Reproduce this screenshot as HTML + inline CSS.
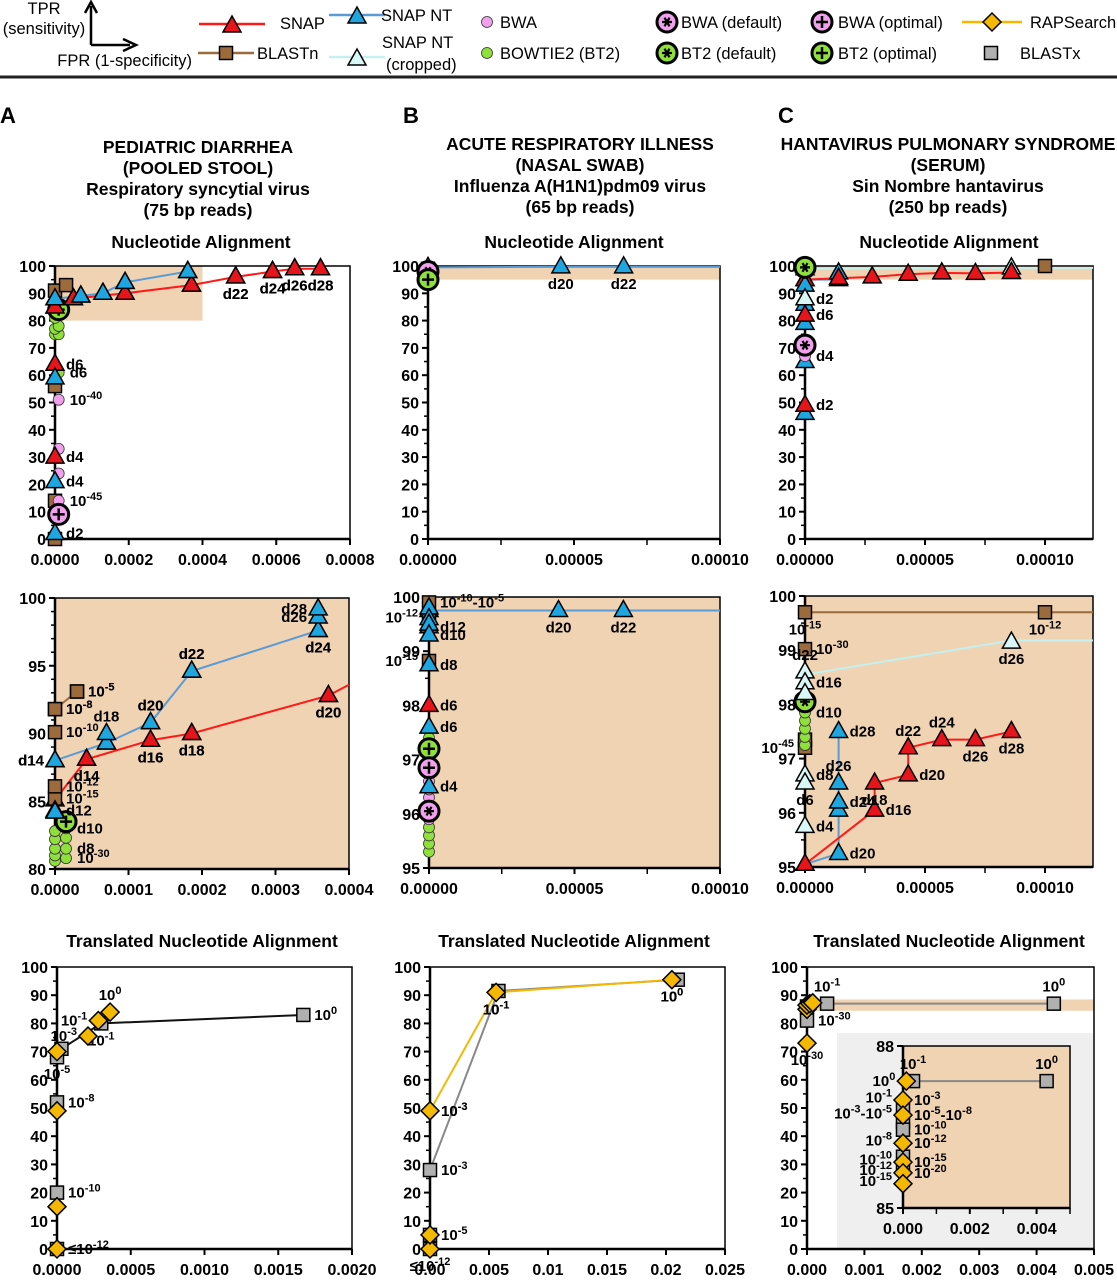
<!DOCTYPE html>
<html><head><meta charset="utf-8">
<style>
html,body{margin:0;padding:0;background:#fff;}
svg{display:block;font-family:"Liberation Sans",Arial,sans-serif;}
.tk{font-size:16px;font-weight:bold;fill:#000;}
.lb{font-size:15px;font-weight:bold;fill:#000;}
.tt{font-size:17.5px;font-weight:bold;fill:#000;}
.lg{font-size:16.5px;fill:#000;}
</style></head>
<body>
<svg id="fig" width="1117" height="1280" viewBox="0 0 1117 1280" xmlns="http://www.w3.org/2000/svg">
<g>
  <text class="lg" x="44" y="14" text-anchor="middle">TPR</text>
  <text class="lg" x="44" y="34" text-anchor="middle">(sensitivity)</text>
  <path d="M91,45 V6 M85,13 L91,2 L97,13 M91,45 H130 M123,39 L136,45 L123,51" stroke="#000" stroke-width="2.5" fill="none"/>
  <text class="lg" x="192" y="66" text-anchor="end">FPR (1-specificity)</text>
  <line x1="0" y1="77" x2="1117" y2="77" stroke="#222" stroke-width="3"/>
</g>
<g id="legendItems"></g>
<g>
  <text x="0" y="123" font-size="22" font-weight="bold">A</text>
  <text x="403" y="123" font-size="22" font-weight="bold">B</text>
  <text x="778" y="123" font-size="22" font-weight="bold">C</text>
  <g text-anchor="middle">
    <text class="tt" x="198" y="153">PEDIATRIC DIARRHEA</text>
    <text class="tt" x="198" y="174">(POOLED STOOL)</text>
    <text class="tt" x="198" y="195">Respiratory syncytial virus</text>
    <text class="tt" x="198" y="216">(75 bp reads)</text>
    <text class="tt" x="580" y="150">ACUTE RESPIRATORY ILLNESS</text>
    <text class="tt" x="580" y="171">(NASAL SWAB)</text>
    <text class="tt" x="580" y="192">Influenza A(H1N1)pdm09 virus</text>
    <text class="tt" x="580" y="213">(65 bp reads)</text>
    <text class="tt" x="948" y="150">HANTAVIRUS PULMONARY SYNDROME</text>
    <text class="tt" x="948" y="171">(SERUM)</text>
    <text class="tt" x="948" y="192">Sin Nombre hantavirus</text>
    <text class="tt" x="948" y="213">(250 bp reads)</text>
    <text class="tt" x="201" y="248">Nucleotide Alignment</text>
    <text class="tt" x="574" y="248">Nucleotide Alignment</text>
    <text class="tt" x="949" y="248">Nucleotide Alignment</text>
    <text class="tt" x="202" y="947">Translated Nucleotide Alignment</text>
    <text class="tt" x="574" y="947">Translated Nucleotide Alignment</text>
    <text class="tt" x="949" y="947">Translated Nucleotide Alignment</text>
  </g>
</g>
<g id="plots"></g>
</svg>
<script>
// ---------- tick label arrays ----------
const yTicks100 = [0,10,20,30,40,50,60,70,80,90,100];
const yTicksA2 = [80,85,90,95,100];
const yTicks95 = [95,96,97,98,99,100];
const yTicksInset = [85,88];
const xTicksA1 = ["0.0000","0.0002","0.0004","0.0006","0.0008"];
const xTicksBC = ["0.00000","0.00005","0.00010"];
const xTicksA2 = ["0.0000","0.0001","0.0002","0.0003","0.0004"];
const xTicksA3 = ["0.0000","0.0005","0.0010","0.0015","0.0020"];
const xTicksB3 = ["0.00","0.005","0.01","0.015","0.02","0.025"];
const xTicksC3 = ["0.000","0.001","0.002","0.003","0.004","0.005"];
const xTicksInset = ["0.000","0.002","0.004"];

// ---------- data arrays: [FPR, TPR, label, labelSide] ----------
// Panel A1
const A1_snap = [[0,30,"d4","r"],[0,64,"d6","r"],[0,85],[0.00005,88],[0.00019,90],[0.00037,93],[0.00049,96,"d22","b"],[0.00059,98,"d24","b"],[0.00065,99,"d26","b"],[0.00072,99,"d28","b"]];
const A1_snapnt = [[0,2,"d2","r"],[0,21,"d4","r"],[0,59],[0,88],[0.00007,89],[0.00013,90],[0.00019,94],[0.00036,98]];
const A1_blastn = [[0,0],[0,14],[0,56],[0,91],[0.00003,93]];
const A1_bwa = [[0.00001,51,"10^-40","r"],[0.00001,33],[0.00001,24],[0.00001,14,"10^-45","r"]];
const A1_bwaopt = [[0.00001,9]];
const A1_bt2 = [[0,75],[0.00001,75],[0,77],[0.00001,78],[0,81],[0.00001,61,"d6","r"]];
const A1_bt2opt = [[0.00001,84]];
// Panel A2
const A2_snap = [[0,84.3,"d12","r"],[0,85.1],[0.000043,88.1,"d14","b"],[0.00013,89.5,"d16","b"],[0.000186,90,"d18","b"],[0.000372,92.8,"d20","b"],[0.0004,93.6]];
const A2_snapnt = [[0,84.2],[0,88,"d14","l"],[0.00007,89.3],[0.00007,90,"d18","t"],[0.00013,90.8,"d20","t"],[0.000186,94.6,"d22","t"],[0.000358,97.6,"d24","b"],[0.000358,98.6,"d26","l"],[0.000358,99.2,"d28","l"]];
const A2_blastn = [[0,85.2,"10^-15","r"],[0,86.1,"10^-12","r"],[0,90.1,"10^-10","r"],[0,91.8,"10^-8","r"],[0.00003,93.1,"10^-5","r"]];
const A2_bt2 = [[0,80.6],[0,81],[0,81.5],[0,82.2],[0,82.8],[0.000015,80.8,"10^-30","r"],[0.000015,81.5,"d8","r"],[0.000015,82.3],[0.000015,83,"d10","r"]];
const A2_bt2opt = [[0.000015,83.5]];
// Panel B1
const B1_snapnt = [[0,99.5],[0.0000455,99.7,"d20","b"],[0.000067,99.7,"d22","b"],[0.0001,99.7]];
const B1_blastn = [[0,99]];
const B1_bwa = [[0,97],[0,96]];
const B1_bt2 = [[0,95.5]];
const B1_bt2opt = [[0,95]];
const B1_bwadef = [[0,98]];
// Panel B2
const B2_snapnt = [[0,99.75],[0.0000445,99.75,"d20","b"],[0.0000668,99.75,"d22","b"],[0.0001,99.75]];
const B2_snapntPts = [[0,99.8],[0,99.6],[0,99.5],[0,99.3,"d10","r"],[0,98.75,"d8","r"],[0,97.6,"d6","r"],[0,96.5,"d4","r"]];
const B2_snap = [[0,99.45,"d12","r"],[0,98.0,"d6","r"]];
const B2_blastn = [[0,99.9,"10^-10-10^-5","r"],[0,99.62,"10^-12","l"],[0,98.82,"10^-15","l"]];
const B2_bwa = [[0,96.3],[0,96.45],[0,96.6],[0,96.75],[0,95.9]];
const B2_bt2 = [[0,95.3],[0,95.45],[0,95.6],[0,95.75],[0,97.4]];
const B2_bt2opt = [[0,97.2]];
const B2_bwaopt = [[0,96.85]];
const B2_bwadef = [[0,96.05]];
// Panel C1
const C1_snap = [[0,95],[0.000014,95.5],[0.000028,96],[0.000043,97],[0.000057,97.5],[0.000071,97.3],[0.000086,97.6]];
const C1_snapPts = [[0,49,"d2","r"],[0,82,"d6","r"]];
const C1_snapnt = [[0,95],[0.000014,95],[0.000014,97.5]];
const C1_snapntPts = [[0,46],[0,65],[0,79],[0,86],[0,93]];
const C1_crop = [[0,99],[0.000086,99.3],[0.00012,99.3]];
const C1_cropPts = [[0,88,"d2","r"]];
const C1_blastn = [[0.0001,100]];
const C1_bwa = [[0,67,"d4","r"]];
const C1_bwadef = [[0,71]];
const C1_bt2def = [[0,99.5]];
// Panel C2
const C2_blastn = [[0,99.7,"10^-15","b"],[0.0001,99.7,"10^-12","b"],[0.00012,99.7]];
const C2_blastnPts = [[0,99.02,"10^-30","r"],[0,97.2,"10^-45","l"],[0,97.35]];
const C2_crop = [[0,98.55],[0.000086,99.18],[0.00012,99.18]];
const C2_cropPts = [[0,98.6,"d22","t"],[0,98.4,"d16","r"],[0,98.2],[0,96.7,"d8","r"],[0,96.55,"d6","b"],[0,95.75,"d4","r"],[0.000086,99.15,"d26","b"]];
const C2_snapnt = [[0,95.05],[0.000014,95.25,"d20","r"],[0.000014,96.05],[0.000014,96.2,"d24","r"],[0.000014,96.55,"d26","t"],[0.000014,97.5,"d28","r"]];
const C2_snap = [[0,95.05],[0.000029,96.05,"d16","r"],[0.000029,96.55,"d18","b"],[0.000043,96.7,"d20","r"],[0.000043,97.2,"d22","t"],[0.000057,97.35,"d24","t"],[0.000071,97.35,"d26","b"],[0.000086,97.5,"d28","b"]];
const C2_bt2 = [[0,97.25],[0,97.4],[0,97.55],[0,97.7],[0,97.85,"d10","r"]];
const C2_bt2def = [[0,98.05]];
// Panel A3
const A3_blastx = [[0,68,"10^-5","b"],[0.00003,71],[0.0003,80,"10^-1","b"],[0.00167,83,"10^0","r"]];
const A3_blastxPts = [[0,0],[0,20,"10^-10","r"],[0,52,"10^-8","r"]];
const A3_rap = [[0,70],[0.00003,71],[0.00021,75.5,"10^-3","l"],[0.00028,81,"10^-1","l"],[0.00036,84,"10^0","t"]];
const A3_rapPts = [[0,0,"≤10^-12","r"],[0,15],[0,49]];
// Panel B3
const B3_blastx = [[0,28,"10^-3","r"],[0.0058,91.5],[0.021,95.5]];
const B3_blastxPts = [[0,0],[0,5,"10^-5","r"]];
const B3_rap = [[0,49,"10^-3","r"],[0.0056,91,"10^-1","b"],[0.0205,95.5,"10^0","b"]];
const B3_rapPts = [[0,0,"≤10^-12","b"],[0,5]];
// Panel C3
const C3_blastx = [[0,86],[0.00035,87,"10^-1","t"],[0.0043,87,"10^0","t"]];
const C3_blastxPts = [[0,81,"10^-30","r"]];
const C3_rap = [[0,86.5],[0.00005,87],[0.0001,87.3]];
const C3_rapPts = [[0,73,"10^-30","b"],[0,85]];
// Inset
const IN_blastx = [[0.0003,87.35,"10^-1","t"],[0.0043,87.35,"10^0","t"]];
const IN_blastxPts = [[0,86.85],[0,86.6],[0,86.45,"10^-10","r"],[0,85.95],[0,85.75]];
const IN_rapPts = [[0.0001,87.35,"10^0","l"],[0,87.0,"10^-3","r"],[0,86.72,"10^-5-10^-8","r"],[0,86.2,"10^-12","r"],[0,85.85,"10^-15","r"],[0,85.65,"10^-20","r"],[0,85.45]];
const IN_rapLeft = [[0,87.05,"10^-1","l"],[0,86.75,"10^-3-10^-5","l"],[0,86.25,"10^-8","l"],[0,85.9,"10^-10","l"],[0,85.7,"10^-12","l"],[0,85.5,"10^-15","l"]];

// ---------- drawing helpers ----------
const NS = "http://www.w3.org/2000/svg";
function mk(tag, name, parent, attrs) {
  const e = document.createElementNS(NS, tag);
  
  
  for (const k in attrs) e.setAttribute(k, attrs[k]);
  parent.appendChild(e);
  return e;
}
function richText(parent, name, x, y, str, anchor, cls) {
  const t = mk('text', name, parent, {x: x, y: y, 'text-anchor': anchor || 'start', class: cls || 'lb'});
  const parts = str.split(/(\^-?\d+)/);
  let sup = false;
  parts.forEach(p => {
    if (!p) return;
    const s = document.createElementNS(NS, 'tspan');
    if (p[0] === '^') {
      s.textContent = p.slice(1); s.setAttribute('dy', '-6'); s.setAttribute('font-size', '11'); sup = true;
    } else {
      s.textContent = p; if (sup) { s.setAttribute('dy', '6'); sup = false; }
    }
    t.appendChild(s);
  });
  return t;
}
const STY = {
  snap:{shape:'tri',fill:'#e8141b',line:'#ff1a1a'},
  snapnt:{shape:'tri',fill:'#1ea6e0',line:'#5b9bd5'},
  crop:{shape:'tri',fill:'#d9f7f7',line:'#c4f0f0'},
  blastn:{shape:'sq',fill:'#9c6b3c',line:'#9c6b3c'},
  bwa:{shape:'c',fill:'#f0a0ec'},
  bt2:{shape:'c',fill:'#8fe03a'},
  bwadef:{shape:'bigstar',fill:'#f0a0ec'},
  bwaopt:{shape:'bigplus',fill:'#f0a0ec'},
  bt2def:{shape:'bigstar',fill:'#8fe03a'},
  bt2opt:{shape:'bigplus',fill:'#8fe03a'},
  rap:{shape:'dia',fill:'#f5b800',line:'#f5b800'},
  blastx:{shape:'sq',fill:'#b0b0b0',line:'#888'},
  blastxk:{shape:'sq',fill:'#b0b0b0',line:'#111'}
};
function marker(g, name, shape, x, y, fill, s) {
  s = s || 1;
  if (shape === 'tri') mk('path', name, g, {d:`M${x},${y-10*s} L${x+9*s},${y+6*s} L${x-9*s},${y+6*s}Z`, fill:fill, stroke:'#000', 'stroke-width':1.5});
  else if (shape === 'sq') mk('rect', name, g, {x:x-6.5*s, y:y-6.5*s, width:13*s, height:13*s, fill:fill, stroke:'#000', 'stroke-width':1.5});
  else if (shape === 'c') mk('circle', name, g, {cx:x, cy:y, r:5.5, fill:fill, stroke:'#333', 'stroke-width':0.8});
  else if (shape === 'dia') mk('path', name, g, {d:`M${x},${y-9*s} L${x+9*s},${y} L${x},${y+9*s} L${x-9*s},${y}Z`, fill:fill, stroke:'#000', 'stroke-width':1.5});
  else if (shape === 'bigplus' || shape === 'bigstar') {
    mk('circle', name, g, {cx:x, cy:y, r:10, fill:fill, stroke:'#000', 'stroke-width':3});
    if (shape === 'bigplus') mk('path', name + '-glyph', g, {d:`M${x-6},${y} H${x+6} M${x},${y-6} V${y+6}`, stroke:'#000', 'stroke-width':2.5});
    else mk('path', name + '-glyph', g, {d:`M${x-5},${y} H${x+5} M${x-2.5},${y-4.3} L${x+2.5},${y+4.3} M${x+2.5},${y-4.3} L${x-2.5},${y+4.3}`, stroke:'#000', 'stroke-width':2.2});
  }
}
function panel(cfg) {
  const root = document.getElementById('plots');
  const g = mk('g', cfg.name, root, {});
  const sx = v => cfg.L + (v - cfg.xd[0]) / (cfg.xd[1] - cfg.xd[0]) * (cfg.R - cfg.L);
  const sy = v => cfg.B - (v - cfg.yd[0]) / (cfg.yd[1] - cfg.yd[0]) * (cfg.B - cfg.T);
  if (cfg.bg) mk('rect', cfg.name + '-inset-background', g, {x:cfg.bg[0], y:cfg.bg[1], width:cfg.bg[2], height:cfg.bg[3], fill:'#efefef'});
  if (cfg.shade) {
    const x0 = sx(cfg.shade[0]), x1 = sx(Math.min(cfg.shade[1], cfg.xd[1])), y1 = sy(cfg.shade[3]), y0 = sy(cfg.shade[2]);
    mk('rect', cfg.name + '-shaded-region', g, {x:x0, y:y1, width:x1-x0, height:y0-y1, fill:'#f0d3b2'});
  }
  mk('rect', cfg.name + '-frame', g, {x:cfg.L, y:cfg.T, width:cfg.R-cfg.L, height:cfg.B-cfg.T, fill:'none', stroke:'#000', 'stroke-width':1.5});
  mk('line', cfg.name + '-y-axis', g, {x1:cfg.L, y1:cfg.T, x2:cfg.L, y2:cfg.B, stroke:'#000', 'stroke-width':2.5});
  mk('line', cfg.name + '-x-axis', g, {x1:cfg.L, y1:cfg.B, x2:cfg.R, y2:cfg.B, stroke:'#000', 'stroke-width':2.5});
  cfg.yt.forEach(v => {
    const y = sy(v);
    mk('line', cfg.name + '-y-tick', g, {x1:cfg.L-6, y1:y, x2:cfg.L, y2:y, stroke:'#000', 'stroke-width':2});
    const t = mk('text', cfg.name + '-y-tick-label', g, {x:cfg.L-9, y:y+6, 'text-anchor':'end', class:'tk'});
    t.textContent = String(v);
  });
  if (cfg.ym) for (let v = cfg.yd[0]; v <= cfg.yd[1] + 1e-9; v += cfg.ym) {
    mk('line', cfg.name + '-y-minor-tick', g, {x1:cfg.L-4, y1:sy(v), x2:cfg.L, y2:sy(v), stroke:'#000', 'stroke-width':1.5});
  }
  cfg.xt.forEach(lab => {
    const v = parseFloat(lab);
    const x = sx(v);
    mk('line', cfg.name + '-x-tick', g, {x1:x, y1:cfg.B, x2:x, y2:cfg.B+6, stroke:'#000', 'stroke-width':2});
    const t = mk('text', cfg.name + '-x-tick-label', g, {x:x, y:cfg.B+26, 'text-anchor':'middle', class:'tk'});
    t.textContent = lab;
  });
  if (cfg.xm) for (let v = cfg.xd[0]; v <= cfg.xd[1] + 1e-12; v += cfg.xm) {
    mk('line', cfg.name + '-x-minor-tick', g, {x1:sx(v), y1:cfg.B, x2:sx(v), y2:cfg.B+6, stroke:'#000', 'stroke-width':1.5});
  }
  cfg.series.forEach(s => {
    const st = STY[s.style];
    if (s.line) {
      const pts = s.data.map(p => sx(Math.min(p[0], cfg.xd[1])) + ',' + sy(p[1])).join(' ');
      mk('polyline', cfg.name + '-' + s.style + '-line', g, {points:pts, fill:'none', stroke:st.line, 'stroke-width':2});
    }
  });
  cfg.series.forEach(s => {
    const st = STY[s.style];
    s.data.forEach(p => {
      if (p[0] >= cfg.xd[1] * 0.999 && cfg.xd[1] < 0.004) return; // line continuation to edge, not a mark
      const x = sx(p[0]), y = sy(p[1]);
      if (!s.nomark) marker(g, cfg.name + '-' + s.style + '-point', st.shape, x, y, st.fill, s.scale);
      if (p[2]) {
        const side = p[3] || 'r';
        let lx = x + 11, ly = y + 5, an = 'start';
        if (side === 'l') { lx = x - 11; an = 'end'; }
        if (side === 'b') { lx = x; ly = y + 22; an = 'middle'; }
        if (side === 't') { lx = x; ly = y - 12; an = 'middle'; }
        richText(g, cfg.name + '-point-label', lx, ly, p[2], an);
      }
    });
  });
}

panel({name:'panel-a-nt', L:55,R:350,T:266,B:539, xd:[0,0.0008], yd:[0,100], yt:yTicks100, ym:5, xt:xTicksA1, shade:[0,0.0004,80,100],
  series:[{style:'snapnt',data:A1_snapnt.slice(3),line:1},{style:'snap',data:A1_snap.slice(2),line:1},
    {style:'blastn',data:A1_blastn},{style:'bwa',data:A1_bwa},{style:'bt2',data:A1_bt2},{style:'bwaopt',data:A1_bwaopt},{style:'bt2opt',data:A1_bt2opt},
    {style:'snap',data:A1_snap},{style:'snapnt',data:A1_snapnt}]});
panel({name:'panel-b-nt', L:428,R:720,T:266,B:539, xd:[0,0.0001], yd:[0,100], yt:yTicks100, ym:5, xt:xTicksBC, xm:0.000025, shade:[0,0.0001,95,100],
  series:[{style:'snapnt',data:B1_snapnt,line:1},{style:'blastn',data:B1_blastn},{style:'bwa',data:B1_bwa},{style:'bt2',data:B1_bt2},{style:'bwadef',data:B1_bwadef},{style:'bt2opt',data:B1_bt2opt}]});
panel({name:'panel-c-nt', L:805,R:1093,T:266,B:539, xd:[0,0.00012], yd:[0,100], yt:yTicks100, ym:5, xt:xTicksBC, xm:0.000025, shade:[0,0.00012,95,100],
  series:[{style:'crop',data:C1_crop,line:1},{style:'snapnt',data:C1_snapnt,line:1},{style:'snap',data:C1_snap,line:1},
    {style:'snapnt',data:C1_snapntPts},{style:'snap',data:C1_snapPts},{style:'crop',data:C1_cropPts},{style:'blastn',data:C1_blastn},
    {style:'bwa',data:C1_bwa},{style:'bwadef',data:C1_bwadef},{style:'bt2def',data:C1_bt2def}]});
panel({name:'panel-a-nt-zoom', L:55,R:349,T:598,B:869, xd:[0,0.0004], yd:[80,100], yt:yTicksA2, ym:1, xt:xTicksA2, shade:[0,0.0004,80,100],
  series:[{style:'snapnt',data:[A2_snapnt[1],A2_snapnt[2],A2_snapnt[4],A2_snapnt[5],A2_snapnt[6]],line:1},{style:'snap',data:A2_snap.slice(1),line:1},
    {style:'blastn',data:A2_blastn.slice(3),line:1},{style:'bt2',data:A2_bt2},{style:'bt2opt',data:A2_bt2opt},{style:'blastn',data:A2_blastn},
    {style:'snap',data:A2_snap.slice(0,1).concat(A2_snap.slice(2,6))},{style:'snapnt',data:A2_snapnt}]});
panel({name:'panel-b-nt-zoom', L:429,R:720,T:597,B:868, xd:[0,0.0001], yd:[95,100], yt:yTicks95, ym:0.5, xt:xTicksBC, xm:0.000025, shade:[0,0.0001,95,100],
  series:[{style:'snapnt',data:B2_snapnt,line:1},{style:'bt2',data:B2_bt2},{style:'bwa',data:B2_bwa},{style:'bt2opt',data:B2_bt2opt},{style:'bwaopt',data:B2_bwaopt},{style:'bwadef',data:B2_bwadef},
    {style:'blastn',data:B2_blastn},{style:'snap',data:B2_snap},{style:'snapnt',data:B2_snapntPts}]});
panel({name:'panel-c-nt-zoom', L:805,R:1093,T:596,B:867, xd:[0,0.00012], yd:[95,100], yt:yTicks95, ym:0.5, xt:xTicksBC, xm:0.000025, shade:[0,0.00012,95,100],
  series:[{style:'blastn',data:C2_blastn,line:1},{style:'crop',data:C2_crop,line:1,nomark:1},{style:'snapnt',data:C2_snapnt,line:1},{style:'snap',data:C2_snap,line:1},
    {style:'blastn',data:C2_blastnPts},{style:'bt2',data:C2_bt2},{style:'bt2def',data:C2_bt2def},{style:'crop',data:C2_cropPts}]});
panel({name:'panel-a-tna', L:57,R:352,T:967,B:1249, xd:[0,0.002], yd:[0,100], yt:yTicks100, ym:5, xt:xTicksA3,
  series:[{style:'blastxk',data:A3_blastx,line:1},{style:'rap',data:A3_rap.slice(0,2),line:1,nomark:1},{style:'blastxk',data:A3_blastxPts},
    {style:'rap',data:A3_rapPts},{style:'rap',data:[A3_rap[0]].concat(A3_rap.slice(2))}]});
panel({name:'panel-b-tna', L:430,R:725,T:967,B:1249, xd:[0,0.025], yd:[0,100], yt:yTicks100, ym:5, xt:xTicksB3,
  series:[{style:'blastx',data:B3_blastx,line:1},{style:'rap',data:B3_rap,line:1,nomark:1},{style:'blastx',data:B3_blastxPts},{style:'rap',data:B3_rapPts},{style:'rap',data:B3_rap}]});
panel({name:'panel-c-tna', L:807,R:1094,T:967,B:1249, xd:[0,0.005], yd:[0,100], yt:yTicks100, ym:5, xt:xTicksC3, shade:[0,0.005,84.5,88.5], bg:[837,1033,256,216],
  series:[{style:'blastx',data:C3_blastx,line:1},{style:'blastx',data:C3_blastxPts},{style:'rap',data:C3_rapPts},{style:'rap',data:C3_rap}]});
panel({name:'panel-c-tna-inset', L:903,R:1070,T:1046,B:1208, xd:[0,0.005], yd:[85,88], yt:yTicksInset, xt:xTicksInset, xm:0.001, shade:[0,0.005,85,88],
  series:[{style:'blastx',data:IN_blastx,line:1},{style:'blastx',data:IN_blastxPts},{style:'rap',data:IN_rapPts},{style:'rap',data:IN_rapLeft,nomark:1}]});

// ---------- legend ----------
// [style, markerX, markerY, text, textX, textY, hasLine, lineHalfWidth]
const lgItems = [
  ['snap',232,24,'SNAP',280,29,true,33],['blastn',226,53,'BLASTn',257,59,true,28],
  ['snapnt',357,15,'SNAP NT',381,21,true,28],['crop',357,57,'SNAP NT',382,48,true,28],
  ['bwa',487,22,'BWA',500,28,false,0],['bt2',487,53,'BOWTIE2 (BT2)',500,59,false,0],
  ['bwadef',667,22,'BWA (default)',681,28,false,0],['bt2def',667,53,'BT2 (default)',681,59,false,0],
  ['bwaopt',822,22,'BWA (optimal)',838,28,false,0],['bt2opt',822,53,'BT2 (optimal)',838,59,false,0],
  ['rap',992,22,'RAPSearch',1030,28,true,30],['blastx',991,53,'BLASTx',1020,59,false,0]
];
const LG = document.getElementById('legendItems');
lgItems.forEach(it => {
  const st = STY[it[0]];
  if (it[6]) mk('line', 'legend-' + it[0] + '-line', LG, {x1:it[1]-it[7], y1:it[2], x2:it[1]+it[7], y2:it[2], stroke:st.line, 'stroke-width':2.5});
  marker(LG, 'legend-' + it[0] + '-marker', st.shape, it[1], it[2] + (st.shape==='tri'?2:0), st.fill);
  const t = mk('text', 'legend-' + it[0] + '-label', LG, {x:it[4], y:it[5], class:'lg'});
  t.textContent = it[3];
});
const ct = mk('text', 'legend-crop-label-line2', LG, {x:386, y:70, class:'lg'});
ct.textContent = '(cropped)';
</script>
</body></html>
